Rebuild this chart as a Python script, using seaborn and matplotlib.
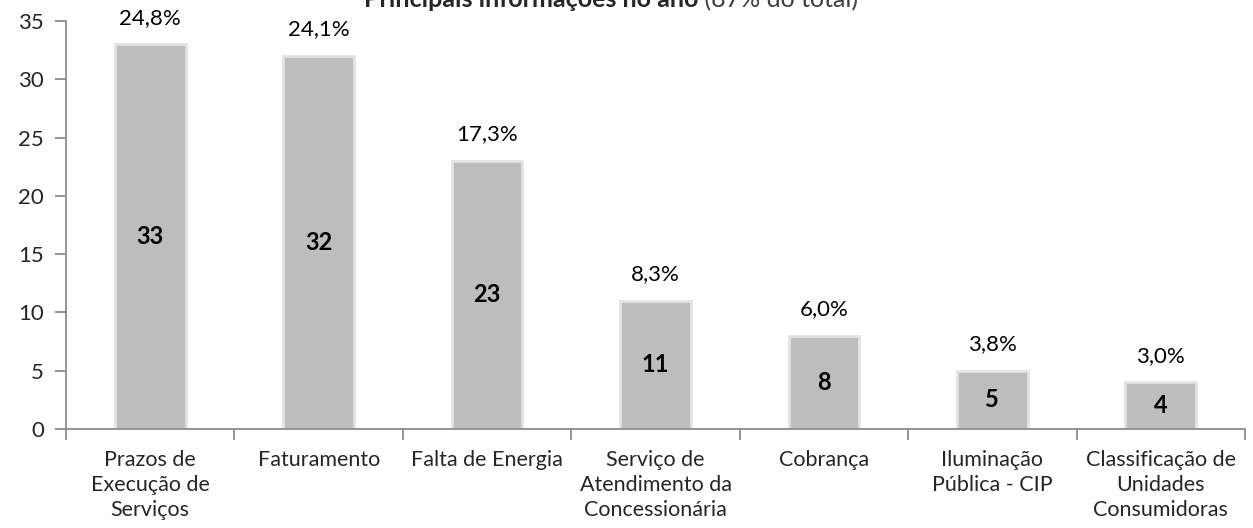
import matplotlib
matplotlib.use("Agg")
import matplotlib.pyplot as plt
import seaborn as sns
import pandas as pd

categories = [
    "Prazos de\nExecução de\nServiços",
    "Faturamento",
    "Falta de Energia",
    "Serviço de\nAtendimento da\nConcessionária",
    "Cobrança",
    "Iluminação\nPública - CIP",
    "Classificação de\nUnidades\nConsumidoras",
]
counts = [33, 32, 23, 11, 8, 5, 4]
shares = ["24,8%", "24,1%", "17,3%", "8,3%", "6,0%", "3,8%", "3,0%"]
y_ticks = [0, 5, 10, 15, 20, 25, 30, 35]

sns.set_theme(style="white")
plt.rcParams["font.family"] = ["Lato", "DejaVu Sans"]

df = pd.DataFrame({"assunto": categories, "qtd": counts})

fig = plt.figure(figsize=(12.53, 5.28), dpi=100)
ax = fig.add_axes([66 / 1253, 99 / 528, (1245 - 66) / 1253, (429 - 21) / 528])

sns.barplot(data=df, x="assunto", y="qtd", ax=ax, color="#bdbdbd",
            width=0.42, edgecolor="#e4e4e4", linewidth=2.0, saturation=1)

ax.set_ylim(0, 35)
ax.set_xlim(-0.5, len(categories) - 0.5)
ax.set_yticks(y_ticks)
ax.set_xlabel("")
ax.set_ylabel("")

for side in ["top", "right"]:
    ax.spines[side].set_visible(False)
for side in ["left", "bottom"]:
    ax.spines[side].set_color("#8c8c8c")
    ax.spines[side].set_linewidth(1.3)

FS = 16
ax.tick_params(axis="y", which="major", direction="out", length=8, width=1.3,
               color="#8c8c8c", labelsize=FS, pad=8, left=True)
ax.set_xticks(range(len(categories)))
ax.set_xticklabels(categories, fontsize=FS - 0.5, linespacing=1.33)
ax.tick_params(axis="x", which="major", length=0, pad=15)
# boundary ticks between categories
ax.set_xticks([i - 0.5 for i in range(len(categories) + 1)], minor=True)
ax.tick_params(axis="x", which="minor", direction="out", length=8, width=1.3,
               color="#8c8c8c", bottom=True)

for i, (v, s) in enumerate(zip(counts, shares)):
    ax.text(i, v / 2, str(v), ha="center", va="center", fontsize=FS + 1,
            fontweight="bold", color="black")
    ax.annotate(s, (i, v), xytext=(0, 12), textcoords="offset points",
                ha="center", va="bottom", fontsize=FS, color="black")

# title split into bold and regular parts
ty = 521 / 528
t1 = fig.text(0, ty, "Principais informações no ano", ha="left",
              va="baseline", fontsize=18, fontweight="bold")
t2 = fig.text(0, ty, " (87% do total)", ha="left", va="baseline",
              fontsize=18, color="#404040")
fig.canvas.draw()
r = fig.canvas.get_renderer()
w1 = t1.get_window_extent(r).width
w2 = t2.get_window_extent(r).width
x0 = 611 - (w1 + w2) / 2
t1.set_x(x0 / 1253)
t2.set_x((x0 + w1) / 1253)

fig.savefig("out.png", dpi=100, facecolor="white")
